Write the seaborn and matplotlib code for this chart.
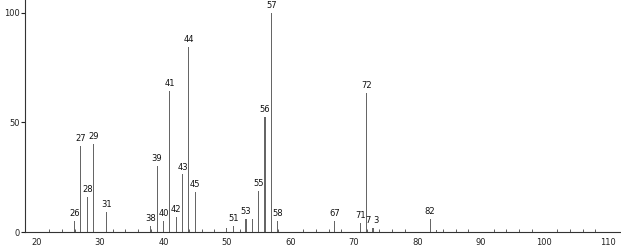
import matplotlib
matplotlib.use("Agg")
import matplotlib.pyplot as plt
import seaborn as sns
import pandas as pd
from matplotlib.ticker import MultipleLocator

mz = [26, 27, 28, 29, 31, 38, 39, 40, 41, 42, 43, 44, 45, 50, 51, 53, 54,
      55, 56, 57, 58, 67, 71, 72, 73, 82, 83]
intensity = [4.9, 39.4, 16.0, 40.3, 9.0, 2.7, 30.1, 5.0, 64.4, 6.8, 26.3,
             84.6, 18.1, 1.8, 2.9, 5.8, 5.9, 18.9, 52.4, 100.0, 5.0, 5.0,
             4.0, 63.3, 1.7, 5.8, 0.9]
labelled = [26, 27, 28, 29, 31, 38, 39, 40, 41, 42, 43, 44, 45, 51, 53,
            55, 56, 57, 58, 67, 71, 72, 73, 82]
label_text = ["26", "27", "28", "29", "31", "38", "39", "40", "41", "42",
              "43", "44", "45", "51", "53", "55", "56", "57", "58", "67",
              "71", "72", "7 3", "82"]
x_ticks = [20, 30, 40, 50, 60, 70, 80, 90, 100, 110]
y_ticks = [0, 50, 100]

sns.set_style("white")
plt.rcParams['font.family'] = ['DejaVu Sans']

df = pd.DataFrame({"mz": mz, "intensity": intensity})

fig = plt.figure(figsize=(6.21, 2.49), dpi=100)
ax = fig.add_axes([25 / 621, 1 - 232 / 249, 595 / 621, 232 / 249])

sns.barplot(data=df, x="mz", y="intensity", native_scale=True, width=0.17,
            color="#666666", linewidth=0, saturation=1, ax=ax)

lookup = dict(zip(mz, intensity))
for m, t in zip(labelled, label_text):
    ax.text(m, lookup[m] + 1.3, t, ha="center", va="bottom", fontsize=6,
            color="#111111")

ax.set_xlim(18.2, 111.9)
ax.set_ylim(0, 105.9)
ax.set_xticks(x_ticks)
ax.set_xticklabels([str(v) for v in x_ticks])
ax.set_yticks(y_ticks)
ax.set_yticklabels([str(v) for v in y_ticks])
ax.xaxis.set_minor_locator(MultipleLocator(2))
ax.tick_params(axis="x", which="major", direction="out", length=3, width=0.8,
               labelsize=6, pad=1, colors="#222222")
ax.tick_params(axis="x", which="minor", direction="in", length=2, width=0.6,
               colors="#444444", bottom=True)
ax.tick_params(axis="y", which="major", direction="out", length=3, width=0.8,
               labelsize=6, pad=1, colors="#222222", left=True)
ax.set_xlabel("")
ax.set_ylabel("")
for s in ["top", "right"]:
    ax.spines[s].set_visible(False)
for s in ["left", "bottom"]:
    ax.spines[s].set_color("#333333")
    ax.spines[s].set_linewidth(0.8)

fig.savefig("out.png", dpi=100)
